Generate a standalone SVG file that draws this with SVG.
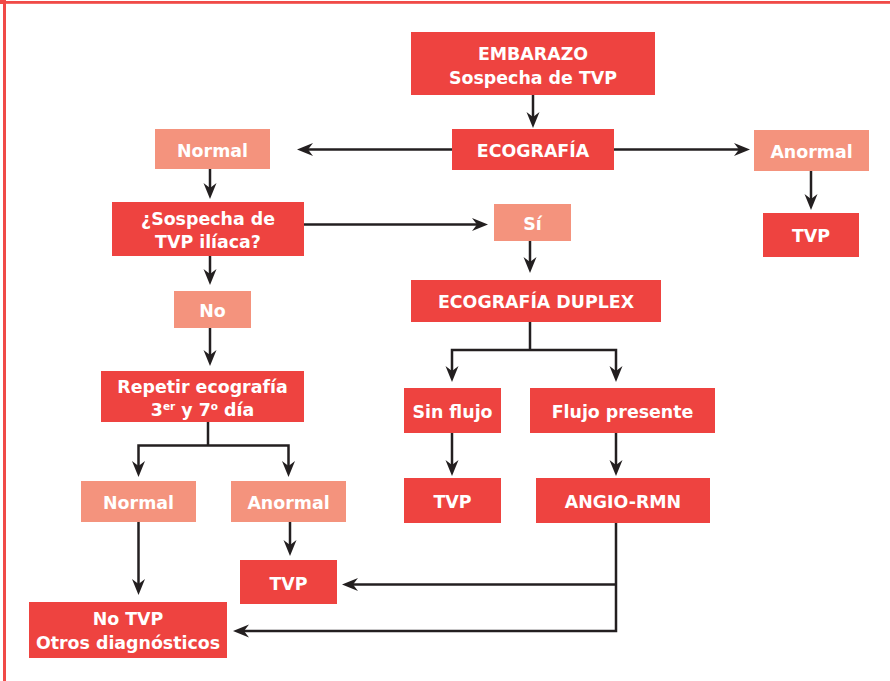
<svg xmlns="http://www.w3.org/2000/svg" width="890" height="681" viewBox="0 0 890 681">
  <style>
    .dark { fill: #ee4340; }
    .light { fill: #f4937d; }
    .lbl { font-family: "DejaVu Sans", "Liberation Sans", sans-serif; font-weight: 700; font-size: 17.4px; fill: #ffffff; text-anchor: middle; }
    .sup { font-size: 10.5px; }
    .wire { fill: none; stroke: #231f20; stroke-width: 2.5; }
    .arrow { marker-end: url(#head); }
  </style>
  <defs>
    <marker id="head" viewBox="-11 -7 18 14" refX="0" refY="0" markerWidth="18" markerHeight="14" markerUnits="userSpaceOnUse" orient="auto">
      <path d="M6,0 L-10,-6.5 L-5,0 L-10,6.5 Z" fill="#231f20"/>
    </marker>
  </defs>

  <rect width="890" height="681" fill="#ffffff"/>
  <!-- frame -->
  <g id="frame" fill="#f04a47">
    <rect x="0" y="1" width="890" height="2.8"/>
    <rect x="3" y="1" width="3" height="680"/>
    <rect x="0" y="0" width="6" height="4"/>
  </g>

  <!-- connectors -->
  <g id="connectors">
    <line class="wire arrow" x1="533" y1="95" x2="533" y2="122"/>
    <line class="wire arrow" x1="452" y1="149.5" x2="303" y2="149.5"/>
    <line class="wire arrow" x1="614" y1="149.5" x2="744" y2="149.5"/>
    <line class="wire arrow" x1="210" y1="169" x2="210" y2="193"/>
    <line class="wire arrow" x1="811" y1="171" x2="811" y2="204"/>
    <line class="wire arrow" x1="304" y1="224.5" x2="482" y2="224.5"/>
    <line class="wire arrow" x1="210" y1="256" x2="210" y2="279"/>
    <line class="wire arrow" x1="530" y1="241" x2="530" y2="267"/>
    <line class="wire arrow" x1="210" y1="328" x2="210" y2="360"/>
    <polyline class="wire" points="530,322 530,350"/>
    <polyline class="wire arrow" points="530,350 452,350 452,376"/>
    <polyline class="wire arrow" points="530,350 616,350 616,376"/>
    <polyline class="wire" points="208,422 208,445.5"/>
    <polyline class="wire arrow" points="208,445.5 138.5,445.5 138.5,471"/>
    <polyline class="wire arrow" points="208,445.5 288.5,445.5 288.5,471"/>
    <line class="wire arrow" x1="452" y1="433" x2="452" y2="470"/>
    <line class="wire arrow" x1="616" y1="433" x2="616" y2="470"/>
    <line class="wire arrow" x1="138.5" y1="522" x2="138.5" y2="589"/>
    <line class="wire arrow" x1="290" y1="522" x2="290" y2="550"/>
    <polyline class="wire arrow" points="616,523 616,631 239,631"/>
    <polyline class="wire arrow" points="616,584.5 348,584.5"/>
  </g>

  <!-- nodes -->
  <g id="embarazo">
    <rect class="dark" x="411" y="32" width="244" height="63"/>
    <text class="lbl" x="533" y="59.5">EMBARAZO</text>
    <text class="lbl" x="533" y="83.5">Sospecha de TVP</text>
  </g>
  <g id="ecografia">
    <rect class="dark" x="452" y="129" width="162" height="41"/>
    <text class="lbl" x="533" y="157">ECOGRAFÍA</text>
  </g>
  <g id="normal-1">
    <rect class="light" x="155" y="129" width="115" height="40"/>
    <text class="lbl" x="212.5" y="156.5">Normal</text>
  </g>
  <g id="anormal-1">
    <rect class="light" x="754" y="130" width="115" height="41"/>
    <text class="lbl" x="811.5" y="158">Anormal</text>
  </g>
  <g id="tvp-1">
    <rect class="dark" x="763" y="213" width="96" height="44"/>
    <text class="lbl" x="811" y="242">TVP</text>
  </g>
  <g id="sospecha-iliaca">
    <rect class="dark" x="112" y="202" width="192" height="54"/>
    <text class="lbl" x="208" y="224.5">¿Sospecha de</text>
    <text class="lbl" x="208" y="247.5">TVP ilíaca?</text>
  </g>
  <g id="si">
    <rect class="light" x="494" y="204" width="77" height="37"/>
    <text class="lbl" x="532.5" y="229.5">Sí</text>
  </g>
  <g id="no">
    <rect class="light" x="174" y="291" width="77" height="37"/>
    <text class="lbl" x="212.5" y="316.5">No</text>
  </g>
  <g id="duplex">
    <rect class="dark" x="411" y="280" width="250" height="42"/>
    <text class="lbl" x="536" y="308">ECOGRAFÍA DUPLEX</text>
  </g>
  <g id="repetir">
    <rect class="dark" x="101" y="371" width="203" height="51"/>
    <text class="lbl" x="202.5" y="392.5">Repetir ecografía</text>
    <text class="lbl" x="202.5" y="415.5">3<tspan class="sup" dy="-6">er</tspan><tspan dy="6"> y 7</tspan><tspan class="sup" dy="-6">o</tspan><tspan dy="6"> día</tspan></text>
  </g>
  <g id="sin-flujo">
    <rect class="dark" x="404" y="388" width="97" height="45"/>
    <text class="lbl" x="452.5" y="417.5">Sin flujo</text>
  </g>
  <g id="flujo-presente">
    <rect class="dark" x="530" y="388" width="185" height="45"/>
    <text class="lbl" x="622.5" y="417.5">Flujo presente</text>
  </g>
  <g id="normal-2">
    <rect class="light" x="81" y="481" width="115" height="41"/>
    <text class="lbl" x="138.5" y="508.5">Normal</text>
  </g>
  <g id="anormal-2">
    <rect class="light" x="231" y="481" width="115" height="41"/>
    <text class="lbl" x="288.5" y="508.5">Anormal</text>
  </g>
  <g id="tvp-2">
    <rect class="dark" x="404" y="478" width="97" height="45"/>
    <text class="lbl" x="452.5" y="507.5">TVP</text>
  </g>
  <g id="angio-rmn">
    <rect class="dark" x="536" y="478" width="174" height="45"/>
    <text class="lbl" x="623" y="507.5">ANGIO-RMN</text>
  </g>
  <g id="tvp-3">
    <rect class="dark" x="240" y="560" width="97" height="44"/>
    <text class="lbl" x="288.5" y="589.5">TVP</text>
  </g>
  <g id="no-tvp">
    <rect class="dark" x="29" y="602" width="198" height="56"/>
    <text class="lbl" x="128" y="624.5">No TVP</text>
    <text class="lbl" x="128" y="648.5">Otros diagnósticos</text>
  </g>
</svg>
